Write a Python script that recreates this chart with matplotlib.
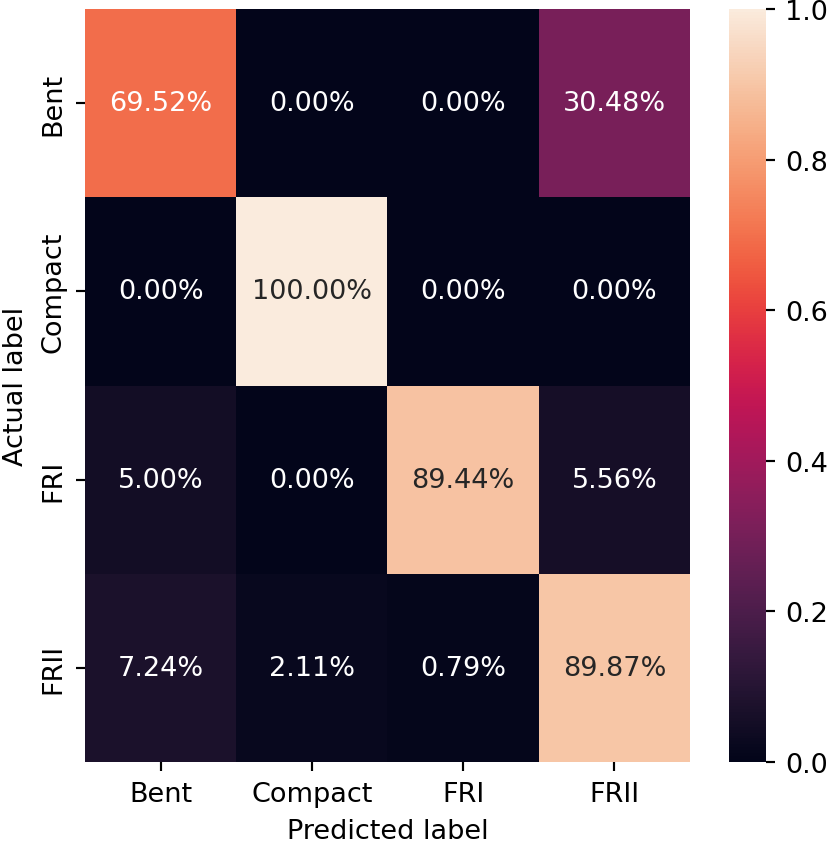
import numpy as np
import matplotlib
matplotlib.use("Agg")
import matplotlib.pyplot as plt
import seaborn as sns

labels = ["Bent", "Compact", "FRI", "FRII"]
row_bent = [69.52, 0.00, 0.00, 30.48]
row_compact = [0.00, 100.00, 0.00, 0.00]
row_fri = [5.00, 0.00, 89.44, 5.56]
row_frii = [7.24, 2.11, 0.79, 89.87]

cm = np.array([row_bent, row_compact, row_fri, row_frii]) / 100.0

dpi = 195
fig = plt.figure(figsize=(830 / dpi, 847 / dpi), dpi=dpi)
ax = fig.add_axes([85 / 830, 1 - 763 / 847, 605 / 830, 753 / 847])
cax = fig.add_axes([729 / 830, 1 - 763 / 847, 37 / 830, 753 / 847])

sns.heatmap(cm, annot=True, fmt=".2%", cmap="rocket", vmin=0, vmax=1,
            xticklabels=labels, yticklabels=labels, ax=ax, cbar_ax=cax)
ax.set_xlabel("Predicted label")
ax.set_ylabel("Actual label")

fig.savefig("out.png", dpi=dpi)
